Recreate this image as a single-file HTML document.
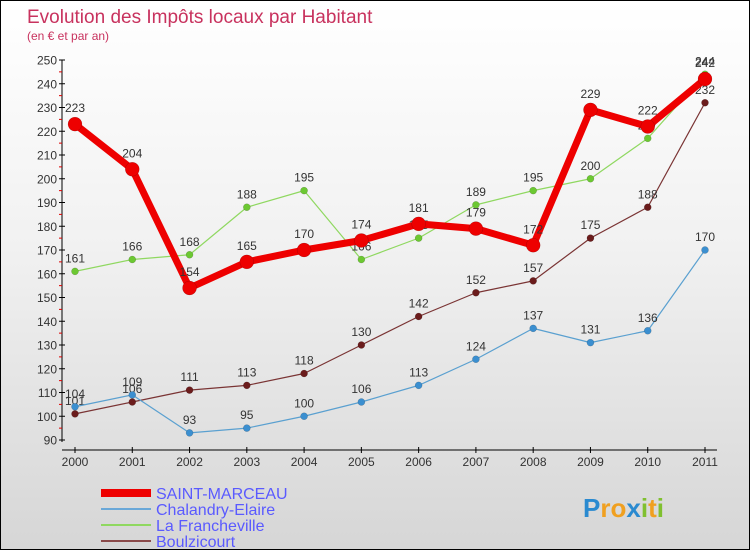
<!DOCTYPE html>
<html><head><meta charset="utf-8"><style>
html,body{margin:0;padding:0}
body{width:750px;height:550px;overflow:hidden;font-family:"Liberation Sans",sans-serif}
#wrap{position:relative;width:748px;height:548px;border:1px solid #000;background:linear-gradient(#ffffff 0%,#f1f1f1 45%,#d6d6d6 100%)}
</style></head><body>
<div id="wrap">
<svg id="chart" width="748" height="548" style="position:absolute;left:0;top:0"></svg>
</div>
<script>
const years=["2000","2001","2002","2003","2004","2005","2006","2007","2008","2009","2010","2011"];
const saintMarceau=[223,204,154,165,170,174,181,179,172,229,222,242];
const chalandry=[104,109,93,95,100,106,113,124,137,131,136,170];
const francheville=[161,166,168,188,195,166,175,189,195,200,217,244];
const boulzicourt=[101,106,111,113,118,130,142,152,157,175,188,232];
const yTicks=[90,100,110,120,130,140,150,160,170,180,190,200,210,220,230,240,250];
const NS="http://www.w3.org/2000/svg";
const svg=document.getElementById('chart');
function xs(i){return 74+i*(630/11);}
function ys(v){return 439-(v-90)*(380/160);}
function el(t,a,p){const e=document.createElementNS(NS,t);for(const k in a)e.setAttribute(k,a[k]);(p||svg).appendChild(e);return e;}
function txt(x,y,s,size,fill,anchor){const t=el('text',{x:x,y:y,'font-size':size,fill:fill,'text-anchor':anchor||'middle'});t.textContent=s;return t;}
let t=txt(26,22,"Evolution des Impôts locaux par Habitant",19,"#c8325e","start");

t=txt(26,39,"(en € et par an)",12,"#c8325e","start");

// axes
const ax=el('g',{});
el('line',{x1:61,y1:59,x2:61,y2:441,stroke:'#000','stroke-width':1},ax);
yTicks.forEach(v=>{const y=ys(v);el('line',{x1:58,y1:y,x2:64,y2:y,stroke:'#000'},ax);
 if(v<250)el('line',{x1:58,y1:ys(v+5),x2:61,y2:ys(v+5),stroke:'#d00'},ax);
 const l=txt(56,y+4.5,String(v),12,"#333","end");});
const xa=el('g',{});
el('line',{x1:61,y1:449,x2:716,y2:449,stroke:'#000'},xa);
years.forEach((yr,i)=>{const x=xs(i);el('line',{x1:x,y1:446,x2:x,y2:452,stroke:'#000'},xa);
 const l=txt(x,465,yr,12,"#333");});
function series(data,color,w,r,name,dot){
 const g=el('g',{});
 el('polyline',{points:data.map((v,i)=>xs(i)+','+ys(v)).join(' '),fill:'none',stroke:color,'stroke-width':w,'stroke-linejoin':'round'},g);
 data.forEach((v,i)=>{const c=el('circle',{cx:xs(i),cy:ys(v),r:r,fill:dot||color,stroke:'rgba(0,0,0,0.25)','stroke-width':0.5},g);
  
  const l=txt(xs(i),ys(v)-9-(r>5?3:0),String(v),12,"#333",'middle');g.appendChild(l);
  });
}
series(boulzicourt,'#7a3434',1.2,3.5,'boulzicourt-series','#6b1c1c');
series(chalandry,'#5aa0d0',1.2,3.5,'chalandry-series','#3b8fd0');
series(francheville,'#8fd860',1.2,3.5,'francheville-series','#6cc832');
series(saintMarceau,'#ee0000',7,7,'saint-marceau-series','#ee0000');
// legend
const legend=[["SAINT-MARCEAU","#ee0000",8],["Chalandry-Elaire","#6aa8d8",2],["La Francheville","#8fd860",2],["Boulzicourt","#8a4a4a",2]];
legend.forEach((d,i)=>{const g=el('g',{});
 const y=492+i*16;el('line',{x1:100,y1:y,x2:150,y2:y,stroke:d[1],'stroke-width':d[2]},g);
 const l=txt(155,y+6,d[0],16,"#5a5aff","start");g.appendChild(l);});
// logo
const lg=el('text',{x:582,y:516,'font-size':26,'font-weight':'bold','font-family':'Liberation Sans, sans-serif'});

[["P","#2a8ad0"],["r","#f0a020"],["o","#f0a020"],["x","#2a8ad0"],["i","#80c030"],["t","#f0a020"],["i","#80c030"]].forEach(c=>{const s=el('tspan',{fill:c[1]},lg);s.textContent=c[0];});
</script>
</body></html>
